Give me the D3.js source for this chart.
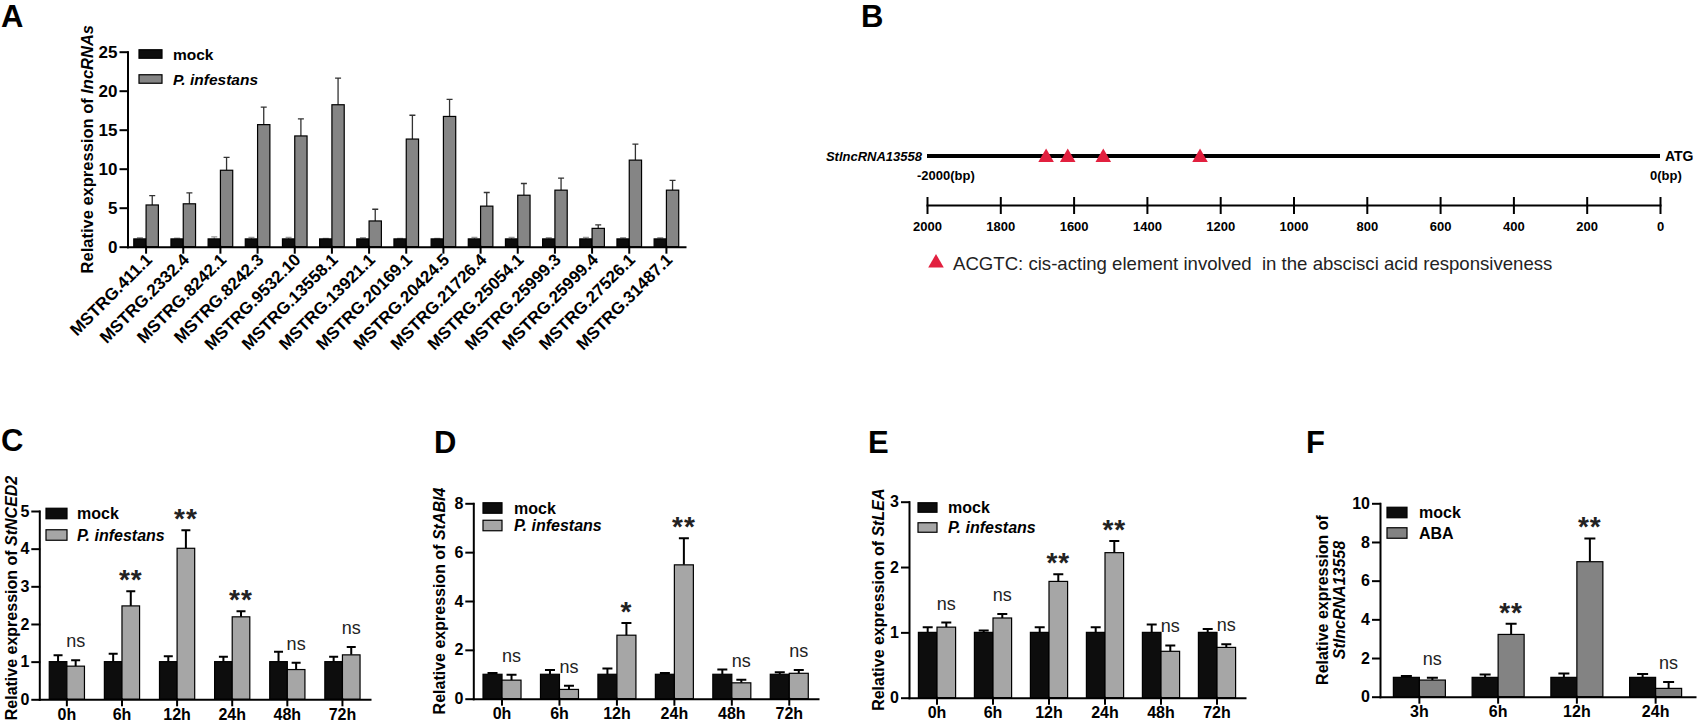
<!DOCTYPE html>
<html lang="en">
<head>
<meta charset="UTF-8">
<title>StlncRNA13558 expression</title>
<script src="https://d3js.org/d3.v7.min.js"></script>
<style>
  body { margin: 0; background: #fff; }
  svg { font-family: Arial, "Liberation Sans", sans-serif; }
  .axis path, .axis line { stroke: #000; stroke-width: 2; stroke-linecap: square; }
  .axis text { font-size: 16px; font-weight: bold; fill: #000; }
  .letter { font-size: 31px; font-weight: bold; }
</style>
</head>
<body>
<script>
// ---- panel A: lncRNA expression ----
const lncNames = ["MSTRG.411.1", "MSTRG.2332.4", "MSTRG.8242.1", "MSTRG.8242.3", "MSTRG.9532.10",
  "MSTRG.13558.1", "MSTRG.13921.1", "MSTRG.20169.1", "MSTRG.20424.5", "MSTRG.21726.4",
  "MSTRG.25054.1", "MSTRG.25999.3", "MSTRG.25999.4", "MSTRG.27526.1", "MSTRG.31487.1"];
const lncMock   = [1, 1, 1, 1, 1, 1, 1, 1, 1, 1, 1, 1, 1, 1, 1];
const lncMockSD = [0.15, 0.1, 0.25, 0.2, 0.2, 0.05, 0.15, 0.05, 0.05, 0.2, 0.2, 0.15, 0.2, 0.15, 0.15];
const lncInf    = [5.35, 5.5, 9.8, 15.65, 14.2, 18.2, 3.3, 13.8, 16.7, 5.2, 6.6, 7.25, 2.35, 11.1, 7.25];
const lncInfSD  = [1.2, 1.4, 1.65, 2.25, 2.2, 3.4, 1.5, 3.05, 2.2, 1.75, 1.5, 1.55, 0.45, 2.05, 1.25];
const lncTicks  = [0, 5, 10, 15, 20, 25];

// ---- panel B: promoter map ----
const promoterTicks = [2000, 1800, 1600, 1400, 1200, 1000, 800, 600, 400, 200, 0];
const acgtcSites = [1675, 1616, 1519, 1255];

// ---- panels C-E: time course after P. infestans ----
const hours = ["0h", "6h", "12h", "24h", "48h", "72h"];

const nced2Mock   = [1, 1, 1, 1, 1, 1];
const nced2MockSD = [0.17, 0.21, 0.14, 0.13, 0.26, 0.13];
const nced2Inf    = [0.88, 2.48, 4.01, 2.19, 0.79, 1.18];
const nced2InfSD  = [0.16, 0.39, 0.48, 0.15, 0.18, 0.21];
const nced2Sig    = ["ns", "**", "**", "**", "ns", "ns"];
const nced2Ticks  = [0, 1, 2, 3, 4, 5];

const abi4Mock   = [1, 1, 1, 1, 1, 1];
const abi4MockSD = [0.05, 0.17, 0.24, 0.05, 0.2, 0.08];
const abi4Inf    = [0.76, 0.38, 2.6, 5.48, 0.65, 1.04];
const abi4InfSD  = [0.22, 0.15, 0.5, 1.09, 0.13, 0.13];
const abi4Sig    = ["ns", "ns", "*", "**", "ns", "ns"];
const abi4Ticks  = [0, 2, 4, 6, 8];

const leaMock   = [1, 1, 1, 1, 1, 1];
const leaMockSD = [0.08, 0.03, 0.08, 0.08, 0.12, 0.05];
const leaInf    = [1.08, 1.22, 1.78, 2.22, 0.71, 0.77];
const leaInfSD  = [0.07, 0.06, 0.11, 0.18, 0.09, 0.05];
const leaSig    = ["ns", "ns", "**", "**", "ns", "ns"];
const leaTicks  = [0, 1, 2, 3];

// ---- panel F: ABA treatment ----
const abaHours  = ["3h", "6h", "12h", "24h"];
const abaMock   = [1, 1, 1, 1];
const abaMockSD = [0.07, 0.15, 0.2, 0.17];
const abaVal    = [0.86, 3.22, 6.98, 0.43];
const abaSD     = [0.12, 0.55, 1.2, 0.33];
const abaSig    = ["ns", "**", "**", "ns"];
const abaTicks  = [0, 2, 4, 6, 8, 10];

const svg = d3.select("body").append("svg")
    .attr("width", 1697)
    .attr("height", 722);

function barPanel(p) {
    const g = svg.append("g");
    const x = d3.scaleBand().domain(p.groups).range([p.x0, p.x1]);
    const y = d3.scaleLinear().domain([0, p.yMax]).range([p.y0, p.yTop]);
    const sub = d3.scaleBand().domain(["mock", "trt"]).range([-p.barW, p.barW]);

    const rows = p.groups.map((k, i) => ({
        k: k,
        sig: p.sig ? p.sig[i] : null,
        vals: [
            { s: "mock", v: p.mock[i], e: p.mockSD[i] },
            { s: "trt", v: p.trt[i], e: p.trtSD[i] }
        ]
    }));

    const grp = g.selectAll(".grp")
        .data(rows)
        .enter().append("g")
        .attr("transform", d => `translate(${x(d.k) + x.bandwidth() / 2},0)`);

    // error bars (upper half only)
    grp.selectAll(".err")
        .data(d => d.vals)
        .enter().append("path")
        .attr("d", d => {
            const cx = sub(d.s) + sub.bandwidth() / 2;
            const yt = y(d.v + d.e);
            return `M${cx},${y(d.v)}V${yt}M${cx - p.capW / 2},${yt}H${cx + p.capW / 2}`;
        })
        .attr("fill", "none")
        .attr("stroke", d => d.s === "mock" ? p.mockErrColor : p.errColor)
        .attr("stroke-width", p.errW);

    grp.selectAll("rect")
        .data(d => d.vals)
        .enter().append("rect")
        .attr("x", d => sub(d.s))
        .attr("width", sub.bandwidth())
        .attr("y", d => y(d.v))
        .attr("height", d => p.y0 - y(d.v))
        .attr("fill", d => d.s === "mock" ? "#0d0d0d" : p.trtColor)
        .attr("stroke", "#000")
        .attr("stroke-width", 1.2);

    // significance marks above the treatment bar
    grp.filter(d => d.sig)
        .append("text")
        .attr("x", sub("trt") + sub.bandwidth() / 2)
        .attr("y", d => {
            const c = y(d.vals[1].v + d.vals[1].e) - 18;
            return d.sig === "ns" ? c + 5 : c + 16;
        })
        .attr("text-anchor", "middle")
        .attr("font-size", d => d.sig === "ns" ? 18 : 28)
        .attr("font-weight", d => d.sig === "ns" ? "normal" : "bold")
        .attr("letter-spacing", d => d.sig === "ns" ? 0 : 1)
        .attr("fill", "#222")
        .text(d => d.sig);

    // axes
    const ya = g.append("g")
        .attr("class", "axis")
        .attr("transform", `translate(${p.x0},0)`)
        .call(d3.axisLeft(y).tickValues(p.ticks).tickFormat(d3.format("d"))
            .tickSize(7).tickSizeOuter(0).tickPadding(3));
    ya.selectAll("text").style("font-size", p.tickFont + "px");

    const xa = g.append("g")
        .attr("class", "axis")
        .attr("transform", `translate(0,${p.y0})`)
        .call(d3.axisBottom(x).tickSize(6).tickSizeOuter(0).tickPadding(3));
    xa.selectAll("text").style("font-size", p.tickFont + "px");
    if (p.rotate) {
        xa.selectAll("text")
            .attr("x", 0).attr("y", 0).attr("dy", null)
            .attr("text-anchor", "end")
            .attr("transform", "translate(7,14) rotate(-45)");
    }

    // legend
    const lg = g.append("g");
    p.legend.forEach((l, i) => {
        lg.append("rect")
            .attr("x", p.legX).attr("y", p.legY[i] - p.swH / 2)
            .attr("width", p.swW).attr("height", p.swH)
            .attr("fill", i === 0 ? "#0d0d0d" : p.trtColor)
            .attr("stroke", "#000").attr("stroke-width", 1.2);
        lg.append("text")
            .attr("x", p.legTextX).attr("y", p.legY[i] + 5.5)
            .attr("font-size", p.legFont).attr("font-weight", "bold")
            .attr("font-style", l.italic ? "italic" : "normal")
            .text(l.text);
    });

    // y title
    const yc = p.titleY || (p.y0 + p.yTop) / 2;
    p.title.forEach((line, li) => {
        const t = g.append("text")
            .attr("transform", `translate(${p.titleX[li]},${yc}) rotate(-90)`)
            .attr("text-anchor", "middle")
            .attr("font-size", p.titleFont || 16).attr("font-weight", "bold");
        line.forEach(part => {
            t.append("tspan").attr("font-style", part.i ? "italic" : "normal").text(part.t);
        });
    });

    svg.append("text").attr("class", "letter")
        .attr("x", p.letter[1]).attr("y", p.letter[2]).text(p.letter[0]);
}

// A
barPanel({
    groups: lncNames, mock: lncMock, mockSD: lncMockSD, trt: lncInf, trtSD: lncInfSD, sig: null,
    x0: 127.5, x1: 685, y0: 246.7, yTop: 51.7, yMax: 25, ticks: lncTicks,
    barW: 12.3, capW: 6, errW: 1.3, errColor: "#333", mockErrColor: "#999",
    trtColor: "#858585", tickFont: 17, rotate: true,
    legend: [{ text: "mock" }, { text: "P. infestans", italic: true }],
    legX: 139, legY: [54, 79], swW: 23, swH: 8.5, legTextX: 173, legFont: 15.5,
    title: [[{ t: "Relative expression of " }, { t: "lncRNAs", i: true }]], titleX: [93], titleFont: 16.5,
    letter: ["A", 1, 27]
});

// C
barPanel({
    groups: hours, mock: nced2Mock, mockSD: nced2MockSD, trt: nced2Inf, trtSD: nced2InfSD, sig: nced2Sig,
    x0: 39.3, x1: 370, y0: 699.3, yTop: 511, yMax: 5, ticks: nced2Ticks,
    barW: 17.6, capW: 9, errW: 2, errColor: "#000", mockErrColor: "#000",
    trtColor: "#a6a6a6", tickFont: 16,
    legend: [{ text: "mock" }, { text: "P. infestans", italic: true }],
    legX: 46, legY: [513.5, 535], swW: 21, swH: 10.5, legTextX: 77, legFont: 16,
    title: [[{ t: "Relative expression of " }, { t: "StNCED2", i: true }]], titleX: [16.5], titleY: 598,
    letter: ["C", 1, 451]
});

// D
barPanel({
    groups: hours, mock: abi4Mock, mockSD: abi4MockSD, trt: abi4Inf, trtSD: abi4InfSD, sig: abi4Sig,
    x0: 473.3, x1: 818, y0: 698.7, yTop: 503.3, yMax: 8, ticks: abi4Ticks,
    barW: 19, capW: 10, errW: 2, errColor: "#000", mockErrColor: "#000",
    trtColor: "#a6a6a6", tickFont: 16,
    legend: [{ text: "mock" }, { text: "P. infestans", italic: true }],
    legX: 483, legY: [508, 525.5], swW: 19, swH: 10.5, legTextX: 514, legFont: 16,
    title: [[{ t: "Relative expression of " }, { t: "StABI4", i: true }]], titleX: [445],
    letter: ["D", 434, 453]
});

// E
barPanel({
    groups: hours, mock: leaMock, mockSD: leaMockSD, trt: leaInf, trtSD: leaInfSD, sig: leaSig,
    x0: 909, x1: 1245, y0: 697.7, yTop: 501.7, yMax: 3, ticks: leaTicks,
    barW: 18.6, capW: 10, errW: 2, errColor: "#000", mockErrColor: "#000",
    trtColor: "#a6a6a6", tickFont: 16,
    legend: [{ text: "mock" }, { text: "P. infestans", italic: true }],
    legX: 918, legY: [507.5, 527.5], swW: 19, swH: 9.5, legTextX: 948, legFont: 16,
    title: [[{ t: "Relative expression of " }, { t: "StLEA", i: true }]], titleX: [884],
    letter: ["E", 868, 453]
});

// F
barPanel({
    groups: abaHours, mock: abaMock, mockSD: abaMockSD, trt: abaVal, trtSD: abaSD, sig: abaSig,
    x0: 1380, x1: 1695, y0: 696.7, yTop: 503.3, yMax: 10, ticks: abaTicks,
    barW: 26, capW: 11, errW: 2, errColor: "#000", mockErrColor: "#000",
    trtColor: "#838383", tickFont: 16,
    legend: [{ text: "mock" }, { text: "ABA" }],
    legX: 1387, legY: [512.5, 533], swW: 20, swH: 10.5, legTextX: 1419, legFont: 16,
    title: [[{ t: "Relative expression of" }], [{ t: "StlncRNA13558", i: true }]], titleX: [1328, 1345],
    letter: ["F", 1306, 453]
});

// B: promoter of StlncRNA13558
(function () {
    const red = "#e2203f";
    const lineY = 156, rulerY = 205, legY = 263;
    const bp = d3.scaleLinear().domain([2000, 0]).range([927, 1660]);
    const g = svg.append("g");

    g.append("line")
        .attr("x1", bp(2000)).attr("x2", bp(0))
        .attr("y1", lineY).attr("y2", lineY)
        .attr("stroke", "#000").attr("stroke-width", 4);

    g.selectAll(".site")
        .data(acgtcSites)
        .enter().append("path")
        .attr("d", d3.symbol(d3.symbolTriangle, 105))
        .attr("transform", d => `translate(${bp(d)},${lineY + 1.5})`)
        .attr("fill", red);

    g.append("text").attr("x", 922).attr("y", lineY + 5)
        .attr("text-anchor", "end").attr("font-size", 13)
        .attr("font-weight", "bold").attr("font-style", "italic")
        .text("StlncRNA13558");
    g.append("text").attr("x", 917).attr("y", lineY + 24)
        .attr("font-size", 13).attr("font-weight", "bold").text("-2000(bp)");
    g.append("text").attr("x", 1665).attr("y", lineY + 5)
        .attr("font-size", 14).attr("font-weight", "bold").text("ATG");
    g.append("text").attr("x", 1650).attr("y", lineY + 24)
        .attr("font-size", 13).attr("font-weight", "bold").text("0(bp)");

    const ax = g.append("g")
        .attr("class", "axis")
        .attr("transform", `translate(0,${rulerY})`)
        .call(d3.axisBottom(bp).tickValues(promoterTicks).tickFormat(d3.format("d"))
            .tickSize(8).tickSizeOuter(0));
    ax.select(".domain").attr("stroke-width", 3);
    ax.selectAll(".tick line").attr("y1", -7).attr("y2", 8).attr("stroke-width", 3);
    ax.selectAll("text").style("font-size", "13px").attr("y", 21).attr("dy", "0.35em");

    g.append("path")
        .attr("d", d3.symbol(d3.symbolTriangle, 105))
        .attr("transform", `translate(936,${legY})`)
        .attr("fill", red);
    g.append("text").attr("x", 953).attr("y", legY + 7)
        .attr("font-size", 18.6).attr("fill", "#222")
        .attr("xml:space", "preserve")
        .text("ACGTC: cis-acting element involved  in the abscisci acid responsiveness");

    svg.append("text").attr("class", "letter").attr("x", 861).attr("y", 27).text("B");
})();
</script>
</body>
</html>
